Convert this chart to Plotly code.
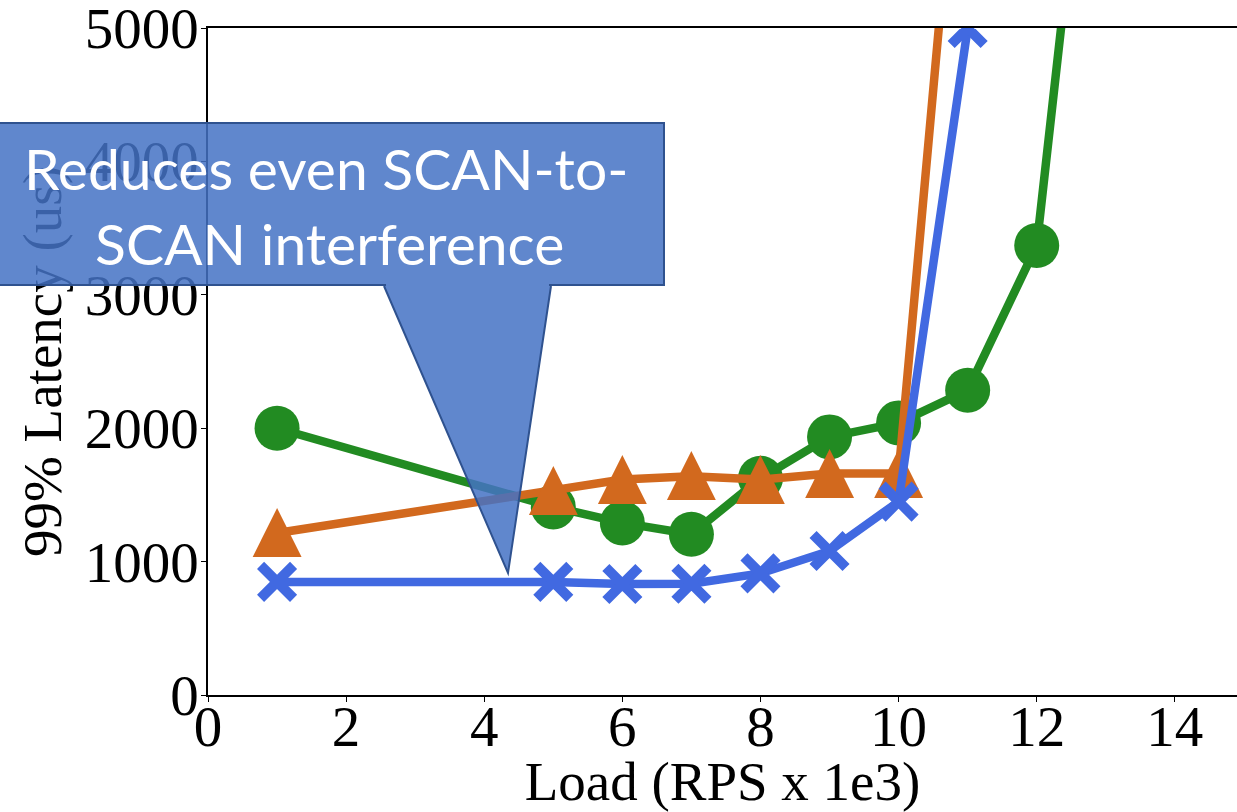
import plotly.graph_objects as go

# ---------------- data ----------------
load = [1, 5, 6, 7, 8, 9, 10, 11, 12, 13]
green_lat = [2000, 1410, 1290, 1205, 1625, 1935, 2040, 2285, 3370, 8000]

load_orange = [1, 5, 6, 7, 8, 9, 10, 11]
orange_lat = [1215, 1530, 1615, 1640, 1615, 1660, 1660, 7400]

load_blue = [1, 5, 6, 7, 8, 9, 10, 11]
blue_lat = [848, 848, 832, 834, 912, 1080, 1450, 5000]

x_ticks = [0, 2, 4, 6, 8, 10, 12, 14]
y_ticks = [0, 1000, 2000, 3000, 4000, 5000]
y_max = 5000

callout_lines = ["Reduces even SCAN-to-", "SCAN interference"]

# ---------------- layout geometry ----------------
W, H = 1237, 812
ML, MR, MT, MB = 208, 0, 28, 117
PW, PH = W - ML - MR, H - MT - MB


def px(x):
    return (x - ML) / PW


def py(y):
    return (H - MB - y) / PH


GREEN = "#228B22"
ORANGE = "#D2691E"
BLUE = "#4169E1"
SERIF = "Liberation Serif"

fig = go.Figure()
fig.add_trace(go.Scatter(
    x=load, y=green_lat, mode="lines+markers",
    line=dict(color=GREEN, width=8.5),
    marker=dict(symbol="circle", size=45, color=GREEN),
    showlegend=False))
fig.add_trace(go.Scatter(
    x=load_orange, y=orange_lat, mode="lines",
    line=dict(color=ORANGE, width=8.5),
    showlegend=False))
# upright (equilateral-like) triangle markers drawn as glyphs;
# points beyond the visible range get no glyph
fig.add_trace(go.Scatter(
    x=load_orange, y=orange_lat, mode="text",
    text=["\u25B2" if v <= y_max else "" for v in orange_lat],
    textposition="middle center",
    textfont=dict(family="DejaVu Sans", size=64, color=ORANGE),
    showlegend=False))
fig.add_trace(go.Scatter(
    x=load_blue, y=blue_lat, mode="lines+markers",
    line=dict(color=BLUE, width=8.5),
    marker=dict(symbol="x-thin", size=33, color=BLUE,
                line=dict(color=BLUE, width=10)),
    showlegend=False))

axis_common = dict(
    showgrid=False, zeroline=False, showline=True, linecolor="black",
    linewidth=1.5, ticks="outside", ticklen=5, tickwidth=1.2,
    tickcolor="black", tickfont=dict(family=SERIF, size=57, color="black"),
)

fig.update_xaxes(range=[0, 14.9], tickvals=x_ticks, mirror=True,
                 ticklabelstandoff=-24,
                 title=dict(text="Load (RPS x 1e3)",
                            font=dict(family=SERIF, size=55, color="black"),
                            standoff=0),
                 **axis_common)
fig.update_yaxes(range=[0, y_max + 0.5], tickvals=y_ticks,
                 ticklabelstandoff=-9, ticklabeloverflow="allow",
                 title=dict(text="99% Latency (us)",
                            font=dict(family=SERIF, size=55, color="black"),
                            standoff=6),
                 **axis_common)

FILL = "rgba(68,114,196,0.85)"
EDGE = "#2F528F"
BLEND = "rgb(96,135,205)"

# pointer wedge of the callout
tip_x, tip_y = 508, 573
base_l, base_r, box_bottom = 384, 551, 286
fig.add_shape(type="path", xref="paper", yref="paper", layer="above",
              path=f"M {px(base_l)},{py(box_bottom)} L {px(tip_x)},{py(tip_y)} "
                   f"L {px(base_r)},{py(box_bottom)}",
              fillcolor=FILL, line=dict(color=EDGE, width=2))

annotations = [
    # box of the callout
    dict(text=" ", xref="paper", yref="paper", x=px(-3), y=py(122),
         xanchor="left", yanchor="top", showarrow=False, width=664, height=160,
         bgcolor=FILL, bordercolor=EDGE, borderwidth=2, borderpad=0,
         font=dict(size=10)),
    # hide box border at the wedge junction
    dict(text=" ", xref="paper", yref="paper", x=px(base_l + 2), y=py(283),
         xanchor="left", yanchor="top", showarrow=False,
         width=base_r - base_l - 4, height=4,
         bgcolor=BLEND, borderwidth=0, borderpad=0, font=dict(size=1)),
    dict(text=callout_lines[0], xref="paper", yref="paper", x=px(326), y=py(168),
         xanchor="center", yanchor="middle", showarrow=False,
         font=dict(family="Lato", size=57, color="white")),
    dict(text=callout_lines[1], xref="paper", yref="paper", x=px(329), y=py(243),
         xanchor="center", yanchor="middle", showarrow=False,
         font=dict(family="Lato", size=57, color="white")),
]

fig.update_layout(
    width=W, height=H,
    margin=dict(l=ML, r=MR, t=MT, b=MB, autoexpand=False),
    plot_bgcolor="white", paper_bgcolor="white",
    annotations=annotations,
)

fig.write_html("out.html")
